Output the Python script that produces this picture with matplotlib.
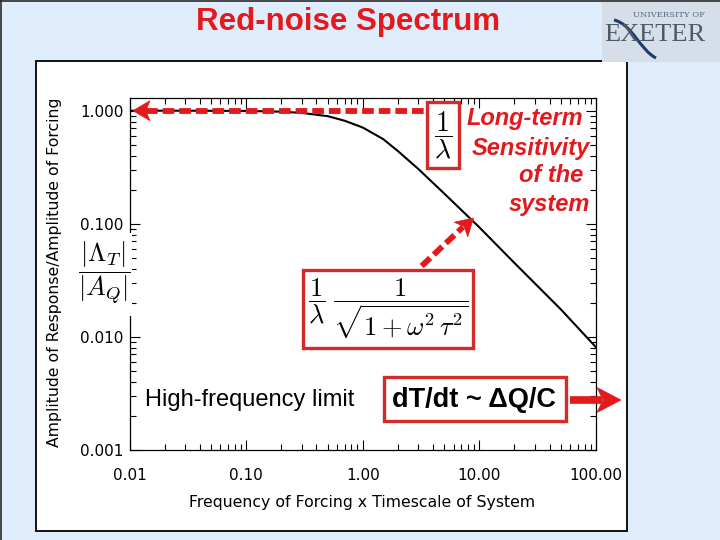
import matplotlib
matplotlib.use('Agg')
import matplotlib.pyplot as plt
from matplotlib.patches import Rectangle, Polygon
from matplotlib.lines import Line2D
from matplotlib.path import Path
from matplotlib.patches import PathPatch
import numpy as np

# ---- data ----
freq = [0.01, 0.03, 0.1, 0.2, 0.3, 0.5, 0.7, 1.0, 1.5, 2.0, 3.0, 5.0, 10.0, 20.0, 50.0, 100.0]
amplitude = [1.0, 1.0, 0.995, 0.98, 0.956, 0.895, 0.815, 0.71, 0.56, 0.44, 0.305, 0.185,
             0.093, 0.045, 0.0175, 0.0081]
x_ticks = [0.01, 0.1, 1.0, 10.0, 100.0]
x_tick_labels = ['0.01', '0.10', '1.00', '10.00', '100.00']
y_ticks = [0.001, 0.01, 0.1, 1.0]
y_tick_labels = ['0.001', '0.010', '0.100', '1.000']

plt.rcParams['mathtext.fontset'] = 'cm'

W, H = 720, 540
fig = plt.figure(figsize=(7.2, 5.4), dpi=100)
fig.patch.set_facecolor('#DEECFC')

def fx(x):
    return x / W

def fy(y):
    return 1 - y / H

TF = fig.transFigure
RED = '#E3191C'
BOXRED = '#D42A2A'

def rect(x0, y0, x1, y1, **kw):
    r = Rectangle((fx(x0), fy(y1)), (x1 - x0) / W, (y1 - y0) / H, transform=TF, **kw)
    fig.add_artist(r)
    return r

def line(xs, ys, **kw):
    l = Line2D([fx(v) for v in xs], [fy(v) for v in ys], transform=TF, **kw)
    fig.add_artist(l)
    return l

def head(tip, direction, length, half, color, zorder=10):
    d = np.array(direction, float)
    d = d / np.hypot(*d)
    n = np.array([-d[1], d[0]])
    t = np.array(tip, float)
    back = t - d * length
    notch = t - d * length * 0.75
    pts = [t, back + n * half, notch, back - n * half]
    p = Polygon([(fx(a), fy(b)) for a, b in pts], closed=True, transform=TF,
                facecolor=color, edgecolor=color, lw=0.5, zorder=zorder)
    fig.add_artist(p)

# slide frame
line([0.5, 0.5], [0, 540], color='#2a2a2a', lw=1.2)
line([0, 720], [0.5, 0.5], color='#2a2a2a', lw=1.2)

# logo block
rect(601.7, 0, 720, 62, facecolor='#D5DEE9', edgecolor='none')
fig.text(fx(669), fy(15), 'UNIVERSITY OF', fontsize=6, color='#5a6878',
         ha='center', va='center', family='DejaVu Serif')
fig.text(fx(655), fy(35), 'EXETER', fontsize=19, color='#4d5966', ha='center',
         va='center', family='Liberation Serif')
sw = Path([(fx(614), fy(20)), (fx(632), fy(24)), (fx(640), fy(50)), (fx(656), fy(58))],
          [Path.MOVETO, Path.CURVE4, Path.CURVE4, Path.CURVE4])
fig.add_artist(PathPatch(sw, transform=TF, facecolor='none', edgecolor='#1f3a6e', lw=2.2))

# title
fig.text(fx(348.5), fy(22), 'Red-noise Spectrum', fontsize=22.5, fontweight='bold',
         color=RED, ha='center', va='center', family='Liberation Sans')

# white panel
rect(36, 61, 626.7, 531, facecolor='white', edgecolor='black', lw=1.3, zorder=0)

# axes
ax = fig.add_axes([fx(129.5), fy(450), (596 - 129.5) / W, (450 - 98) / H])
ax.set_zorder(2)
ax.patch.set_alpha(0)
ax.plot(freq, amplitude, color='black', lw=1.5)
ax.set_xscale('log')
ax.set_yscale('log')
ax.set_xlim(0.01, 100)
ax.set_ylim(0.001, 1.295)
ax.set_xticks(x_ticks)
ax.set_xticklabels(x_tick_labels)
ax.set_yticks(y_ticks)
ax.set_yticklabels(y_tick_labels)
ax.tick_params(which='both', direction='in', top=True, right=True, width=0.8)
ax.tick_params(which='major', length=7, labelsize=11)
ax.tick_params(axis='x', which='major', pad=13)
ax.tick_params(axis='y', which='major', pad=4.5)
ax.tick_params(which='minor', length=4)
for s in ax.spines.values():
    s.set_linewidth(0.9)

fig.text(fx(55), fy(272), 'Amplitude of Response/Amplitude of Forcing', rotation=90,
         fontsize=11.3, ha='center', va='center')
fig.text(fx(362), fy(502), 'Frequency of Forcing x Timescale of System',
         fontsize=11.3, ha='center', va='center')

# |A_T|/|A_Q| overlay
rect(78, 233, 131.5, 316, facecolor='white', edgecolor='none', zorder=5)
fig.text(fx(104), fy(273), r'$\dfrac{|\Lambda_T|}{|A_Q|}$', fontsize=19,
         ha='center', va='center', zorder=6)

# dashed line to 1/lambda + arrowhead
line([146, 427], [110.7, 110.7], color=RED, lw=4.2, dashes=(2.0, 0.85), zorder=8)
head((133, 110.7), (-1, 0), 17, 10, RED)

# 1/lambda box
rect(426.7, 101.7, 459, 168, facecolor='white', edgecolor=BOXRED, lw=2.4, zorder=9)
fig.text(fx(443), fy(135), r'$\dfrac{1}{\lambda}$', fontsize=20, ha='center',
         va='center', zorder=10)

# Long-term sensitivity text
for txt, xr, yc in [('Long-term', 583, 119), ('Sensitivity', 590, 148),
                    ('of the', 583, 176), ('system', 590, 205)]:
    fig.text(fx(xr), fy(yc), txt, fontsize=17, fontweight='bold', fontstyle='italic',
             color=RED, ha='right', va='center', family='Liberation Sans', zorder=10)

# formula box + dashed arrow
rect(303.3, 270, 473.3, 348.3, facecolor='white', edgecolor=BOXRED, lw=2.4, zorder=9)
fig.text(fx(388), fy(309),
         r'$\dfrac{1}{\lambda}\;\dfrac{1}{\sqrt{1+\omega^2\,\tau^2}}$',
         fontsize=19, ha='center', va='center', zorder=10)
line([421.7, 463], [266, 227], color=RED, lw=4.2, dashes=(2.0, 0.85), zorder=8)
head((473.5, 218), (51.8, -48), 17, 10, RED)

# high-frequency limit
fig.text(fx(145), fy(400), 'High-frequency limit', fontsize=17, ha='left', va='center',
         family='Liberation Sans', zorder=10)
rect(384, 377, 566, 421, facecolor='white', edgecolor=BOXRED, lw=2.4, zorder=9)
fig.text(fx(474), fy(400), 'dT/dt ~ \u0394Q/C', fontsize=19.5, fontweight='bold',
         ha='center', va='center', family='Liberation Sans', zorder=10)
line([570, 602], [400, 400], color=RED, lw=5.5, solid_capstyle='butt', zorder=8)
head((621, 400), (1, 0), 24, 12.5, RED)

fig.savefig('out.png', dpi=100, facecolor=fig.get_facecolor())
